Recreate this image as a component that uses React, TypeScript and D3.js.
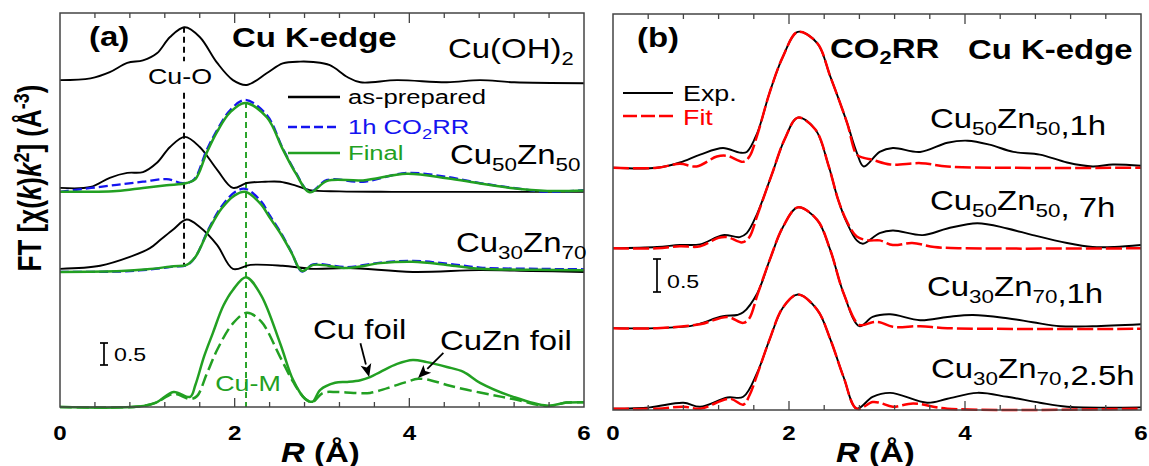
import React from "react";
import * as d3 from "d3";

const FONT = "'Liberation Sans', Arial, Helvetica, sans-serif";
const SX = 1.22;

// ---------- Panel (a) data (FT relative to each group's offset) ----------
const OFF_A = { cuoh2: 7.43, cu50: 4.98, cu30: 3.16, foil: 0 };

const R_CUOH2 = [0, 0.35, 0.57, 0.77, 0.95, 1.11, 1.26, 1.43, 1.6, 1.8, 1.98, 2.14, 2.37, 2.55, 2.75, 2.9, 3.09, 3.29, 3.44, 3.86, 4.43, 4.81, 5.2, 6.0];
const FT_CUOH2 = [0, 0.04, 0.18, 0.39, 0.45, 0.61, 0.98, 1.2, 0.98, 0.39, 0, -0.11, 0.16, 0.38, 0.42, 0.41, 0.34, 0.07, -0.05, 0, -0.05, 0, -0.05, -0.07];

const R_CU50_AS = [0, 0.35, 0.57, 0.77, 0.95, 1.11, 1.26, 1.43, 1.6, 1.8, 1.98, 2.14, 2.35, 2.52, 2.7, 2.86, 3.2, 3.8, 4.5, 5.2, 6.0];
const FT_CU50_AS = [0, 0.02, 0.23, 0.34, 0.36, 0.57, 0.93, 1.16, 0.93, 0.41, 0, 0.11, 0.14, 0.14, 0.05, -0.05, -0.08, -0.09, -0.09, -0.09, -0.09];

const R_CU50_1H = [0, 0.65, 0.95, 1.22, 1.41, 1.53, 1.68, 1.8, 1.95, 2.12, 2.37, 2.55, 2.7, 2.86, 3.06, 3.47, 3.97, 4.43, 4.81, 5.19, 5.58, 6.0];
const FT_CU50_1H = [-0.09, 0.07, 0.14, 0.2, 0.11, 0.18, 0.86, 1.32, 1.77, 2.0, 1.65, 0.9, 0.35, -0.09, 0.18, 0.14, 0.34, 0.25, 0.11, 0, -0.09, -0.05];

const R_CU50_FIN = [0, 0.65, 0.95, 1.22, 1.45, 1.55, 1.68, 1.8, 1.95, 2.12, 2.37, 2.55, 2.7, 2.86, 3.06, 3.47, 3.97, 4.43, 4.81, 5.19, 5.58, 6.0];
const FT_CU50_FIN = [-0.09, -0.07, 0.0, 0.06, 0.11, 0.2, 0.8, 1.28, 1.72, 1.93, 1.6, 0.88, 0.33, -0.1, 0.16, 0.17, 0.32, 0.22, 0.1, -0.01, -0.07, -0.06];

const R_CU30_AS = [0, 0.46, 0.8, 1.03, 1.15, 1.3, 1.45, 1.6, 1.8, 1.98, 2.18, 2.55, 2.9, 3.3, 4.04, 4.8, 5.4, 6.0];
const FT_CU30_AS = [-0.02, 0.05, 0.25, 0.45, 0.64, 0.88, 1.1, 0.93, 0.52, -0.02, 0.07, 0.05, -0.02, 0, -0.09, -0.05, -0.07, -0.09];

const R_CU30_1H = [0, 0.7, 1.0, 1.3, 1.45, 1.55, 1.7, 1.85, 2.0, 2.12, 2.3, 2.4, 2.52, 2.65, 2.77, 2.9, 3.29, 3.67, 4.04, 4.43, 4.81, 5.5, 6.0];
const FT_CU30_1H = [-0.09, -0.08, -0.04, 0.03, 0.06, 0.25, 0.88, 1.4, 1.72, 1.8, 1.52, 1.2, 0.83, 0.36, -0.08, 0.08, 0.02, 0.12, 0.16, 0.1, 0.01, -0.02, -0.03];

const R_CU30_FIN = [0, 0.7, 1.0, 1.3, 1.45, 1.55, 1.7, 1.85, 2.0, 2.12, 2.3, 2.4, 2.52, 2.65, 2.77, 2.9, 3.29, 3.67, 4.04, 4.43, 4.81, 5.5, 6.0];
const FT_CU30_FIN = [-0.09, -0.07, -0.03, 0.04, 0.07, 0.25, 0.85, 1.35, 1.65, 1.73, 1.45, 1.15, 0.8, 0.35, -0.07, 0.07, 0.0, 0.11, 0.14, 0.07, -0.02, -0.04, -0.05];

const R_CUFOIL = [0, 0.9, 1.1, 1.3, 1.49, 1.55, 1.65, 1.75, 1.87, 1.98, 2.13, 2.3, 2.52, 2.67, 2.8, 2.89, 2.98, 3.15, 3.29, 3.44, 3.55, 3.67, 3.86, 4.04, 4.2, 4.43, 4.62, 4.81, 5.19, 5.58, 5.8, 6.0];
const FT_CUFOIL = [0, 0.01, 0.1, 0.34, 0.23, 0.5, 1.15, 1.68, 2.3, 2.66, 2.95, 2.55, 1.45, 0.61, 0.2, 0.12, 0.39, 0.55, 0.57, 0.61, 0.68, 0.8, 0.98, 1.07, 1.02, 0.91, 0.8, 0.55, 0.23, 0.03, 0.1, 0.11];

const R_CUZNFOIL = [0, 0.9, 1.1, 1.3, 1.49, 1.57, 1.68, 1.8, 1.98, 2.14, 2.3, 2.52, 2.67, 2.8, 2.89, 3.01, 3.17, 3.36, 3.55, 3.75, 3.97, 4.1, 4.24, 4.43, 4.66, 4.96, 5.19, 5.58, 5.8, 6.0];
const FT_CUZNFOIL = [0, 0.01, 0.1, 0.3, 0.18, 0.25, 0.75, 1.3, 1.9, 2.14, 1.95, 1.14, 0.57, 0.2, 0.11, 0.32, 0.34, 0.32, 0.32, 0.43, 0.57, 0.64, 0.61, 0.5, 0.39, 0.27, 0.18, 0.02, 0.1, 0.11];

// ---------- Panel (b) data ----------
const OFF_B = [3.67, 2.45, 1.24, 0.02];

const R_B1_EXP = [0, 0.5, 0.76, 0.99, 1.25, 1.44, 1.52, 1.64, 1.78, 1.93, 2.1, 2.32, 2.47, 2.66, 2.77, 2.85, 3.03, 3.18, 3.49, 3.8, 4.03, 4.28, 4.55, 4.85, 5.16, 5.45, 5.68, 6.0];
const FT_B1_EXP = [0, 0, 0.08, 0.2, 0.3, 0.23, 0.24, 0.53, 1.14, 1.68, 2.06, 1.89, 1.38, 0.68, 0.23, 0.02, 0.24, 0.3, 0.24, 0.38, 0.41, 0.35, 0.24, 0.2, 0.08, 0.02, 0.05, 0.03];
const R_B1_FIT = [0, 0.5, 0.76, 0.95, 1.18, 1.3, 1.48, 1.55, 1.64, 1.78, 1.93, 2.1, 2.32, 2.47, 2.66, 2.77, 2.85, 2.95, 3.15, 3.5, 3.8, 4.5, 6.0];
const FT_B1_FIT = [0, 0, 0.06, 0.02, 0.17, 0.18, 0.09, 0.17, 0.5, 1.14, 1.68, 2.06, 1.89, 1.38, 0.68, 0.2, 0.15, 0.12, 0.05, 0.07, 0.02, 0, 0];

const R_B2_EXP = [0, 0.5, 0.76, 0.99, 1.25, 1.44, 1.52, 1.64, 1.8, 1.95, 2.1, 2.3, 2.45, 2.56, 2.66, 2.77, 2.84, 3.03, 3.18, 3.52, 3.8, 4.14, 4.48, 4.77, 5.16, 5.45, 5.7, 6.0];
const FT_B2_EXP = [0, 0.02, 0.05, 0.06, 0.2, 0.17, 0.23, 0.53, 1.1, 1.65, 1.98, 1.8, 1.25, 0.73, 0.38, 0.12, 0.07, 0.23, 0.27, 0.2, 0.3, 0.38, 0.3, 0.2, 0.08, 0.02, 0.02, 0.05];
const R_B2_FIT = [0, 0.5, 0.76, 0.99, 1.2, 1.3, 1.47, 1.55, 1.64, 1.8, 1.95, 2.1, 2.3, 2.45, 2.56, 2.66, 2.77, 2.9, 3.03, 3.18, 3.4, 3.65, 4.0, 6.0];
const FT_B2_FIT = [0, 0, 0.03, 0.03, 0.16, 0.17, 0.09, 0.17, 0.5, 1.1, 1.65, 1.98, 1.8, 1.25, 0.73, 0.4, 0.18, 0.12, 0.12, 0.05, 0.08, 0.02, 0, 0];

const R_B3_EXP = [0, 0.5, 0.875, 0.99, 1.25, 1.41, 1.48, 1.64, 1.78, 1.93, 2.1, 2.32, 2.47, 2.62, 2.8, 2.95, 3.15, 3.49, 3.8, 4.09, 4.48, 4.77, 5.08, 5.45, 6.0];
const FT_B3_EXP = [0, 0, 0.03, 0.07, 0.18, 0.2, 0.24, 0.53, 1.03, 1.53, 1.83, 1.64, 1.18, 0.53, 0.03, 0.17, 0.21, 0.12, 0.17, 0.2, 0.15, 0.09, 0.03, 0.03, 0.06];
const R_B3_FIT = [0, 0.5, 0.99, 1.3, 1.48, 1.55, 1.64, 1.78, 1.93, 2.1, 2.32, 2.47, 2.62, 2.8, 2.95, 3.03, 3.18, 3.49, 3.8, 6.0];
const FT_B3_FIT = [0, 0, 0.06, 0.17, 0.08, 0.15, 0.5, 1.03, 1.53, 1.83, 1.64, 1.18, 0.53, 0.05, 0.09, 0.09, 0.02, 0.03, 0, -0.01];

const R_B4_EXP = [0, 0.42, 0.8, 0.99, 1.3, 1.48, 1.64, 1.78, 1.93, 2.1, 2.32, 2.47, 2.62, 2.77, 2.95, 3.15, 3.57, 3.8, 4.14, 4.48, 4.85, 5.16, 6.0];
const FT_B4_EXP = [0, 0.02, 0.09, 0.03, 0.17, 0.18, 0.55, 1.05, 1.53, 1.73, 1.5, 1.05, 0.48, 0, 0.18, 0.24, 0.09, 0.15, 0.24, 0.18, 0.09, 0.03, 0.02];
const R_B4_FIT = [0, 0.5, 0.8, 0.99, 1.33, 1.48, 1.55, 1.64, 1.78, 1.93, 2.1, 2.32, 2.47, 2.62, 2.77, 2.95, 3.03, 3.18, 3.41, 3.8, 6.0];
const FT_B4_FIT = [0, 0, 0.03, 0, 0.15, 0.06, 0.2, 0.52, 1.05, 1.53, 1.73, 1.5, 1.05, 0.48, 0, 0.1, 0.09, 0.03, 0.08, 0, 0];

const X_TICK_LABELS = [0, 2, 4, 6];

// ---------- helpers ----------
type Pt = [number, number];
const zip = (r: number[], f: number[], off: number): Pt[] => r.map((x, i) => [x, f[i] + off]);

const BLACK = "#000";
const BLUE = "#1414f0";
const GREEN = "#22a022";
const RED = "#ff0000";

function Txt(props: any) {
  const { x, y, size, weight, fill, anchor, rotate, sx, children } = props;
  const tf = `translate(${x},${y}) scale(${sx || SX},1)` + (rotate ? ` rotate(${rotate})` : "");
  return (
    <text
      transform={tf}
      fontSize={size}
      fontWeight={weight || "normal"}
      fill={fill || "#000"}
      textAnchor={anchor || "start"}
      fontFamily={FONT}
    >
      {children}
    </text>
  );
}

function Alloy({ a, b, size }: { a: string; b: string; size: number }) {
  return (
    <>
      <tspan>Cu</tspan>
      <tspan dy={size * 0.25} fontSize={size * 0.68}>{a}</tspan>
      <tspan dy={-size * 0.25}>Zn</tspan>
      <tspan dy={size * 0.25} fontSize={size * 0.68}>{b}</tspan>
    </>
  );
}

function Frame({ x, y }: { x: any; y: any }) {
  const [x0, x1] = x.range();
  const [y0, y1] = y.range();
  const ticks = d3.range(1, 15).map((i) => ({ v: i * 0.4, major: i % 5 === 0 }));
  return (
    <g>
      <rect x={x0} y={y1} width={x1 - x0} height={y0 - y1} fill="none" stroke="#444" strokeWidth={1.5} />
      {ticks.map((t, i) => (
        <g key={i} stroke="#444" strokeWidth={1.3}>
          <line x1={x(t.v)} x2={x(t.v)} y1={y0} y2={y0 - (t.major ? 9 : 5)} />
          <line x1={x(t.v)} x2={x(t.v)} y1={y1} y2={y1 + (t.major ? 10 : 5)} />
        </g>
      ))}
      {X_TICK_LABELS.map((v) => (
        <Txt key={v} x={x(v)} y={440} size={21} weight="bold" anchor="middle" sx={1.15}>{v}</Txt>
      ))}
      <Txt x={(x0 + x1) / 2 - 41} y={462} size={27} weight="bold">
        <tspan fontStyle="italic">R</tspan>
        <tspan> (Å)</tspan>
      </Txt>
    </g>
  );
}

function ScaleBar({ x, yTop, yBot, label }: { x: number; yTop: number; yBot: number; label: string }) {
  return (
    <g>
      <g stroke="#000" strokeWidth={1.7}>
        <line x1={x} x2={x} y1={yTop} y2={yBot} />
        <line x1={x - 4} x2={x + 4} y1={yTop} y2={yTop} />
        <line x1={x - 4} x2={x + 4} y1={yBot} y2={yBot} />
      </g>
      <Txt x={x + 10} y={yBot - 4} size={19}>{label}</Txt>
    </g>
  );
}

function Arrow({ x1, y1, x2, y2 }: { x1: number; y1: number; x2: number; y2: number }) {
  const ang = Math.atan2(y2 - y1, x2 - x1);
  const L = 13, W = 5.5;
  const bx = x2 - L * Math.cos(ang), by = y2 - L * Math.sin(ang);
  const px = -Math.sin(ang) * W, py = Math.cos(ang) * W;
  return (
    <g>
      <line x1={x1} y1={y1} x2={bx} y2={by} stroke="#000" strokeWidth={1.8} />
      <polygon points={`${x2},${y2} ${bx + px},${by + py} ${bx + 3 * Math.cos(ang)},${by + 3 * Math.sin(ang)} ${bx - px},${by - py}`} fill="#000" />
    </g>
  );
}

export default function App() {
  const xA = d3.scaleLinear().domain([0, 6]).range([60, 584]);
  const yA = d3.scaleLinear().domain([0, 8.955]).range([407, 13]);
  const xB = d3.scaleLinear().domain([0, 6]).range([613, 1141]);
  const yB = d3.scaleLinear().domain([0, 6]).range([410, 14]);

  const lineA = d3.line<Pt>().x((d) => xA(d[0])).y((d) => yA(d[1])).curve(d3.curveCatmullRom.alpha(0.5));
  const lineB = d3.line<Pt>().x((d) => xB(d[0])).y((d) => yB(d[1])).curve(d3.curveCatmullRom.alpha(0.5));

  const aCurves = [
    { d: zip(R_CUOH2, FT_CUOH2, OFF_A.cuoh2), c: BLACK, w: 1.9, dash: undefined },
    { d: zip(R_CU50_AS, FT_CU50_AS, OFF_A.cu50), c: BLACK, w: 1.9, dash: undefined },
    { d: zip(R_CU50_1H, FT_CU50_1H, OFF_A.cu50), c: BLUE, w: 2.3, dash: "9,4" },
    { d: zip(R_CU50_FIN, FT_CU50_FIN, OFF_A.cu50), c: GREEN, w: 2.5, dash: undefined },
    { d: zip(R_CU30_AS, FT_CU30_AS, OFF_A.cu30), c: BLACK, w: 1.9, dash: undefined },
    { d: zip(R_CU30_1H, FT_CU30_1H, OFF_A.cu30), c: BLUE, w: 2.3, dash: "9,4" },
    { d: zip(R_CU30_FIN, FT_CU30_FIN, OFF_A.cu30), c: GREEN, w: 2.5, dash: undefined },
    { d: zip(R_CUZNFOIL, FT_CUZNFOIL, OFF_A.foil), c: GREEN, w: 2.5, dash: "12,5" },
    { d: zip(R_CUFOIL, FT_CUFOIL, OFF_A.foil), c: GREEN, w: 2.5, dash: undefined },
  ];

  const bPairs = [
    [zip(R_B1_EXP, FT_B1_EXP, OFF_B[0]), zip(R_B1_FIT, FT_B1_FIT, OFF_B[0])],
    [zip(R_B2_EXP, FT_B2_EXP, OFF_B[1]), zip(R_B2_FIT, FT_B2_FIT, OFF_B[1])],
    [zip(R_B3_EXP, FT_B3_EXP, OFF_B[2]), zip(R_B3_FIT, FT_B3_FIT, OFF_B[2])],
    [zip(R_B4_EXP, FT_B4_EXP, OFF_B[3]), zip(R_B4_FIT, FT_B4_FIT, OFF_B[3])],
  ];

  const fs = 27;

  return (
    <svg width={1149} height={466} style={{ display: "block", position: "absolute", left: 0, top: 0, background: "#fff" }}>
      <rect x={0} y={0} width={1149} height={466} fill="#fff" />

      {/* ===== Panel (a) ===== */}
      <g strokeWidth={1.9} strokeDasharray="6,4">
        <line x1={xA(1.42)} x2={xA(1.42)} y1={yA(8.64)} y2={yA(7.86)} stroke="#000" />
        <line x1={xA(1.42)} x2={xA(1.42)} y1={yA(7.14)} y2={yA(3.23)} stroke="#000" />
        <line x1={xA(2.13)} x2={xA(2.13)} y1={yA(6.93)} y2={yA(0)} stroke={GREEN} />
      </g>
      {aCurves.map((c, i) => (
        <path key={i} d={lineA(c.d) || ""} fill="none" stroke={c.c} strokeWidth={c.w} strokeDasharray={c.dash} />
      ))}
      <Frame x={xA} y={yA} />

      <Txt x={41} y={178} size={26} sx={1.25} weight="bold" anchor="middle" rotate={-90}>
        <tspan>FT [χ(</tspan>
        <tspan fontStyle="italic">k</tspan>
        <tspan>)</tspan>
        <tspan fontStyle="italic">k</tspan>
        <tspan dy={-10} fontSize={18}>2</tspan>
        <tspan dy={10}>] (Å</tspan>
        <tspan dy={-10} fontSize={18}>-3</tspan>
        <tspan dy={10}>)</tspan>
      </Txt>

      <Txt x={89} y={46} size={27} weight="bold">(a)</Txt>
      <Txt x={232} y={47} size={27} weight="bold">Cu K-edge</Txt>
      <Txt x={448} y={58} size={fs}>
        Cu(OH)
        <tspan dy={7} fontSize={18}>2</tspan>
      </Txt>
      <Txt x={180} y={84} size={22} anchor="middle">Cu-O</Txt>

      {/* legend (a) */}
      <g strokeWidth={2.3}>
        <line x1={288} x2={340} y1={97} y2={97} stroke={BLACK} />
        <line x1={288} x2={340} y1={127} y2={127} stroke={BLUE} strokeDasharray="9,4" />
        <line x1={288} x2={340} y1={153} y2={153} stroke={GREEN} strokeWidth={2.7} />
      </g>
      <Txt x={348} y={104} size={21}>as-prepared</Txt>
      <Txt x={348} y={134} size={21} fill={BLUE}>
        1h CO<tspan dy={5} fontSize={15}>2</tspan><tspan dy={-5}>RR</tspan>
      </Txt>
      <Txt x={348} y={160} size={21} fill={GREEN}>Final</Txt>

      <Txt x={450} y={164} size={fs}><Alloy a="50" b="50" size={fs} /></Txt>
      <Txt x={456} y={252} size={fs}><Alloy a="30" b="70" size={fs} /></Txt>

      <ScaleBar x={104} yTop={343} yBot={365} label="0.5" />
      <Txt x={248} y={391} size={22} anchor="middle" fill={GREEN}>Cu-M</Txt>

      <Txt x={313} y={339} size={fs}>Cu foil</Txt>
      <Txt x={440} y={350} size={fs}>CuZn foil</Txt>
      <Arrow x1={xA(3.44)} y1={yA(1.45)} x2={xA(3.54)} y2={yA(0.68)} />
      <Arrow x1={xA(4.39)} y1={yA(1.23)} x2={xA(4.1)} y2={yA(0.66)} />

      {/* ===== Panel (b) ===== */}
      {bPairs.map((p, i) => (
        <g key={i}>
          <path d={lineB(p[0]) || ""} fill="none" stroke={BLACK} strokeWidth={1.9} />
          <path d={lineB(p[1]) || ""} fill="none" stroke={RED} strokeWidth={2.5} strokeDasharray="16,4" />
        </g>
      ))}
      <Frame x={xB} y={yB} />

      <Txt x={637} y={47} size={27} weight="bold">(b)</Txt>
      <Txt x={830} y={58} size={27} weight="bold">
        CO<tspan dy={6} fontSize={18}>2</tspan><tspan dy={-6}>RR</tspan>
      </Txt>
      <Txt x={968} y={59} size={27} weight="bold">Cu K-edge</Txt>

      <line x1={623} x2={673} y1={93} y2={93} stroke={BLACK} strokeWidth={2.1} />
      <line x1={623} x2={673} y1={116} y2={116} stroke={RED} strokeWidth={2.5} strokeDasharray="14,4" />
      <Txt x={683} y={101} size={22}>Exp.</Txt>
      <Txt x={683} y={125} size={22} fill={RED}>Fit</Txt>

      <Txt x={930} y={128} size={fs}><Alloy a="50" b="50" size={fs} /><tspan>,1h</tspan></Txt>
      <Txt x={930} y={210} size={fs}><Alloy a="50" b="50" size={fs} /><tspan>, 7h</tspan></Txt>
      <Txt x={927} y={296} size={fs}><Alloy a="30" b="70" size={fs} /><tspan>,1h</tspan></Txt>
      <Txt x={931} y={378} size={fs}><Alloy a="30" b="70" size={fs} /><tspan>,2.5h</tspan></Txt>

      <ScaleBar x={657} yTop={259} yBot={292} label="0.5" />
    </svg>
  );
}
